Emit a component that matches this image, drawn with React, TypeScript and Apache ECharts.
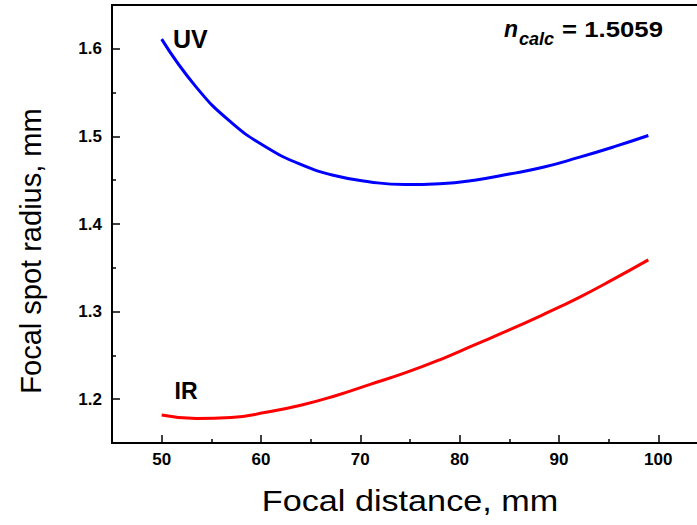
import React, { useEffect, useRef } from "react";
import * as echarts from "echarts";

const uvX = [50, 53.5, 57, 60.5, 64, 67.5, 71, 74.5, 78, 81.5, 85, 88.5, 92, 95.5, 99];
const uvY = [1.611, 1.556, 1.516, 1.488, 1.468, 1.455, 1.448, 1.445, 1.446, 1.45, 1.457, 1.465, 1.476, 1.488, 1.501];
const irX = [50, 53.5, 57, 60.5, 64, 67.5, 71, 74.5, 78, 81.5, 85, 88.5, 92, 95.5, 99];
const irY = [1.182, 1.178, 1.179, 1.185, 1.193, 1.204, 1.217, 1.23, 1.245, 1.262, 1.279, 1.297, 1.316, 1.337, 1.359];

const xMajor = [50, 60, 70, 80, 90, 100];
const xMinor = [55, 65, 75, 85, 95];
const yMajor = [1.2, 1.3, 1.4, 1.5, 1.6];
const yMinor = [1.25, 1.35, 1.45, 1.55];

const xTitle = "Focal distance, mm";
const yTitle = "Focal spot radius, mm";
const nValue = "= 1.5059";

const FONT = "'Liberation Sans', Arial, Helvetica, sans-serif";

export default function App() {
  const ref = useRef<HTMLDivElement>(null);
  useEffect(() => {
    if (!ref.current) return;
    const chart = echarts.init(ref.current, null, { renderer: "svg" });
    const axisLine = { show: true, lineStyle: { color: "#000", width: 2 } };
    const label = { color: "#000", fontSize: 17, fontWeight: "bold" as const, fontFamily: FONT };
    const common = { type: "value" as const, splitLine: { show: false }, min: 45, max: 103.9 };
    const commonY = { type: "value" as const, splitLine: { show: false }, min: 1.15, max: 1.65 };
    chart.setOption({
      animation: false,
      backgroundColor: "#fff",
      grid: { left: 112, top: 5, right: 0, bottom: 82, containLabel: false, outerBoundsMode: "none" },
      xAxis: [
        {
          ...common,
          position: "bottom",
          axisLine,
          axisTick: { show: true, inside: true, length: 8, lineStyle: { color: "#000", width: 1.5 }, customValues: xMajor },
          axisLabel: { ...label, margin: 8, customValues: xMajor },
        },
        {
          ...common,
          position: "bottom",
          axisLine: { show: false },
          axisTick: { show: true, inside: true, length: 4, lineStyle: { color: "#000", width: 1.5 }, customValues: xMinor },
          axisLabel: { show: false },
        },
        {
          ...common,
          position: "top",
          axisLine,
          axisTick: { show: false },
          axisLabel: { show: false },
        },
      ],
      yAxis: [
        {
          ...commonY,
          position: "left",
          axisLine,
          axisTick: { show: true, inside: true, length: 8, lineStyle: { color: "#000", width: 1.5 }, customValues: yMajor },
          axisLabel: { ...label, margin: 10, customValues: yMajor, formatter: (v: number) => v.toFixed(1) },
        },
        {
          ...commonY,
          position: "left",
          axisLine: { show: false },
          axisTick: { show: true, inside: true, length: 4, lineStyle: { color: "#000", width: 1.5 }, customValues: yMinor },
          axisLabel: { show: false },
        },
      ],
      series: [
        {
          type: "line",
          name: "UV",
          xAxisIndex: 0,
          yAxisIndex: 0,
          data: uvX.map((x, i) => [x, uvY[i]]),
          smooth: 0.5,
          showSymbol: false,
          lineStyle: { color: "#0000ff", width: 3 },
        },
        {
          type: "line",
          name: "IR",
          xAxisIndex: 0,
          yAxisIndex: 0,
          data: irX.map((x, i) => [x, irY[i]]),
          smooth: 0.5,
          showSymbol: false,
          lineStyle: { color: "#ff0000", width: 3 },
        },
      ],
      graphic: [
        {
          type: "text",
          x: 410,
          y: 500.5,
          scaleX: 1.14,
          style: { text: xTitle, fill: "#000", fontSize: 30, fontFamily: FONT, align: "center", verticalAlign: "middle" },
        },
        {
          type: "text",
          x: 31,
          y: 251,
          rotation: Math.PI / 2,
          style: { text: yTitle, fill: "#000", fontSize: 29, fontFamily: FONT, align: "center", verticalAlign: "middle" },
        },
        {
          type: "text",
          x: 173,
          y: 38.6,
          style: { text: "UV", fill: "#000", fontSize: 25, fontWeight: "bold", fontFamily: FONT, align: "left", verticalAlign: "middle" },
        },
        {
          type: "text",
          x: 174.5,
          y: 391.3,
          style: { text: "IR", fill: "#000", fontSize: 23, fontWeight: "bold", fontFamily: FONT, align: "left", verticalAlign: "middle" },
        },
        {
          type: "text",
          x: 504,
          y: 36.7 - 0.3465 * 23,
          style: { text: "n", fill: "#000", fontSize: 23, fontWeight: "bold", fontStyle: "italic", fontFamily: FONT, align: "left", verticalAlign: "middle" },
        },
        {
          type: "text",
          x: 519,
          y: 45 - 0.3465 * 18,
          style: { text: "calc", fill: "#000", fontSize: 18, fontWeight: "bold", fontStyle: "italic", fontFamily: FONT, align: "left", verticalAlign: "middle" },
        },
        {
          type: "text",
          x: 663,
          y: 36.7 - 0.3465 * 22,
          scaleX: 1.17,
          style: { text: nValue, fill: "#000", fontSize: 22, fontWeight: "bold", fontFamily: FONT, align: "right", verticalAlign: "middle" },
        },
      ],
    });
    return () => chart.dispose();
  }, []);
  return <div ref={ref} style={{ position: "absolute", left: 0, top: 0, width: 697, height: 525 }} />;
}
